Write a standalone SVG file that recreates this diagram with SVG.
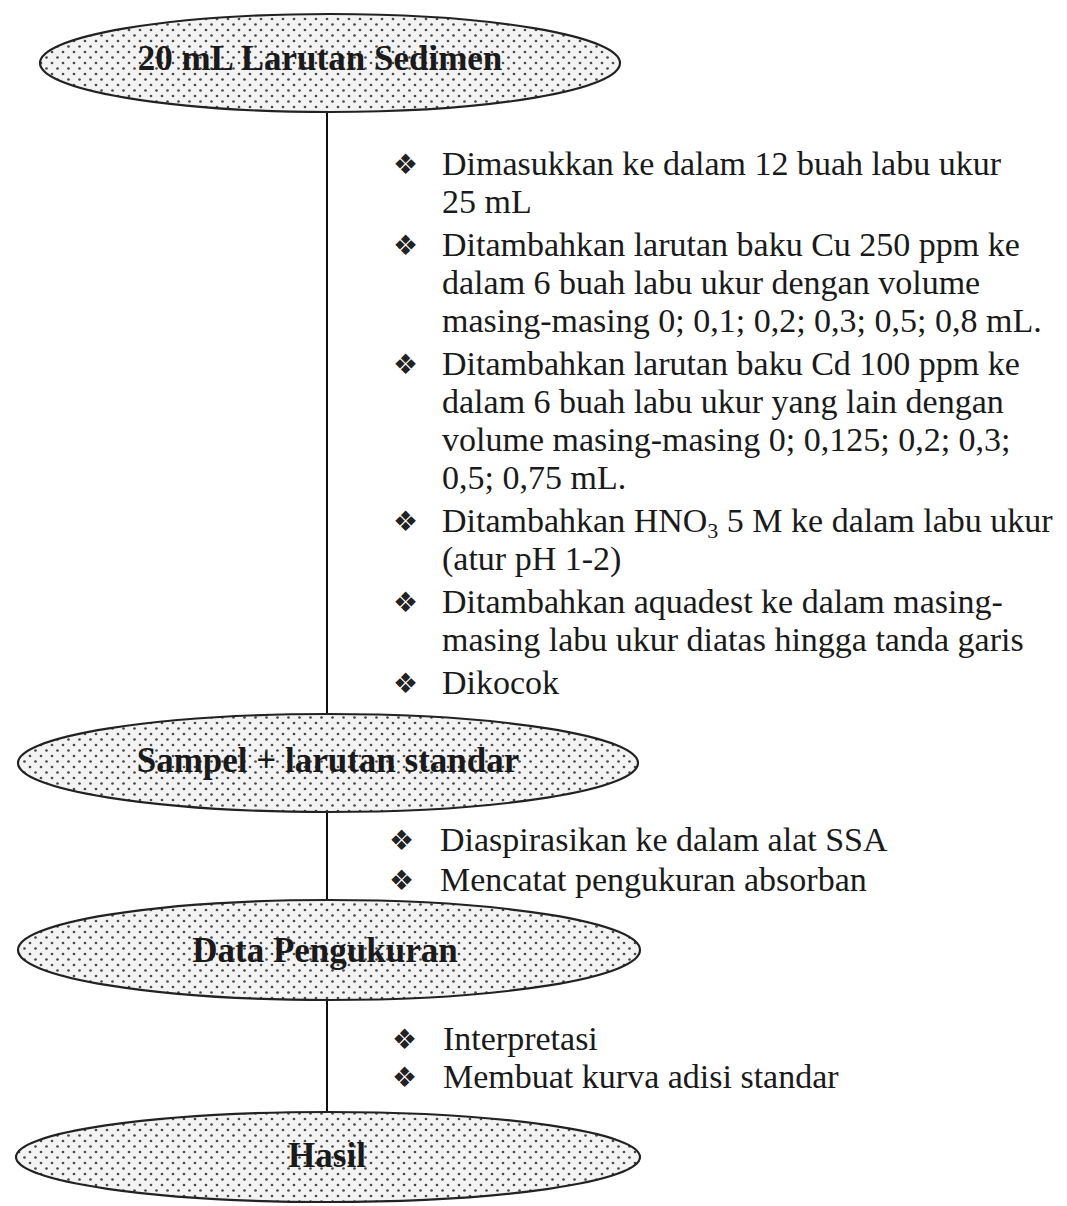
<svg xmlns="http://www.w3.org/2000/svg" width="1067" height="1206" viewBox="0 0 1067 1206">
<defs>
<pattern id="dots" width="11" height="11" patternUnits="userSpaceOnUse">
<rect width="11" height="11" fill="#f3f3f3"/>
<circle cx="2.5" cy="2.5" r="1.35" fill="#4a4a4a"/>
<circle cx="8" cy="8" r="1.35" fill="#4a4a4a"/>
</pattern>
</defs>
<style>
.node ellipse{fill:url(#dots);stroke:#222;stroke-width:2.2}
.lbl{font-family:"Liberation Serif","Times New Roman",serif;font-weight:bold;font-size:35px;fill:#1a1a1a;text-anchor:middle}
.txt{font-family:"Liberation Serif","Times New Roman",serif;font-size:34px;fill:#1a1a1a}
.bul{font-family:"DejaVu Sans",sans-serif;font-size:28px;fill:#222}
.conn line{stroke:#111;stroke-width:2}
</style>
<rect width="1067" height="1206" fill="#fff"/>
<g id="connectors" class="conn">
<line x1="327" y1="111" x2="327" y2="714"/>
<line x1="327" y1="811" x2="327" y2="901"/>
<line x1="327" y1="999" x2="327" y2="1113"/>
</g>
<g id="n1" class="node">
<ellipse cx="330" cy="63" rx="290" ry="49"/>
<text class="lbl" x="320" y="70">20 mL  Larutan Sedimen</text>
</g>
<g id="n2" class="node">
<ellipse cx="328" cy="763" rx="310" ry="49"/>
<text class="lbl" x="328" y="772">Sampel + larutan standar</text>
</g>
<g id="n3" class="node">
<ellipse cx="329" cy="950" rx="311" ry="50"/>
<text class="lbl" x="325" y="962">Data Pengukuran</text>
</g>
<g id="n4" class="node">
<ellipse cx="328" cy="1157" rx="312" ry="45"/>
<text class="lbl" x="327" y="1167">Hasil</text>
</g>
<g id="steps1">
<text class="bul" x="393" y="174">❖</text>
<text class="txt" x="442" y="175">Dimasukkan ke dalam 12 buah labu ukur</text>
<text class="txt" x="442" y="213">25 mL</text>
<text class="bul" x="393" y="255">❖</text>
<text class="txt" x="442" y="256">Ditambahkan larutan baku Cu 250 ppm ke</text>
<text class="txt" x="442" y="294">dalam 6 buah labu ukur dengan volume</text>
<text class="txt" x="442" y="332">masing-masing 0; 0,1; 0,2; 0,3; 0,5; 0,8 mL.</text>
<text class="bul" x="393" y="374">❖</text>
<text class="txt" x="442" y="375">Ditambahkan larutan baku Cd 100 ppm ke</text>
<text class="txt" x="442" y="413">dalam 6 buah labu ukur yang lain dengan</text>
<text class="txt" x="442" y="451">volume masing-masing 0; 0,125; 0,2; 0,3;</text>
<text class="txt" x="442" y="489">0,5; 0,75 mL.</text>
<text class="bul" x="393" y="531">❖</text>
<text class="txt" x="442" y="532">Ditambahkan HNO<tspan font-size="22" dy="6">3</tspan><tspan dy="-6"> 5 M ke dalam labu ukur</tspan></text>
<text class="txt" x="442" y="570">(atur pH 1-2)</text>
<text class="bul" x="393" y="612">❖</text>
<text class="txt" x="442" y="613">Ditambahkan aquadest ke dalam masing-</text>
<text class="txt" x="442" y="651">masing labu ukur diatas hingga tanda garis</text>
<text class="bul" x="393" y="693">❖</text>
<text class="txt" x="442" y="694">Dikocok</text>
</g>
<g id="steps2">
<text class="bul" x="389" y="850">❖</text>
<text class="txt" x="440" y="851">Diaspirasikan ke dalam alat SSA</text>
<text class="bul" x="389" y="890">❖</text>
<text class="txt" x="440" y="891">Mencatat pengukuran absorban</text>
</g>
<g id="steps3">
<text class="bul" x="392" y="1049">❖</text>
<text class="txt" x="443" y="1050">Interpretasi</text>
<text class="bul" x="392" y="1087">❖</text>
<text class="txt" x="443" y="1088">Membuat kurva adisi standar</text>
</g>
</svg>
